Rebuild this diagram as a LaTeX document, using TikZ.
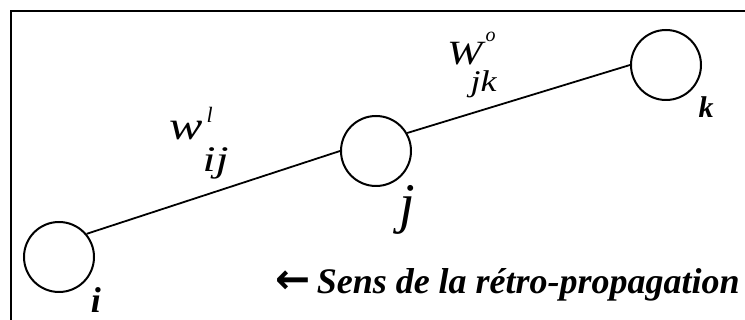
\documentclass[tikz,border=0pt]{standalone}
\usepackage{fontspec}
\setmainfont{Liberation Serif}
\newfontfamily\arrowfont{DejaVu Sans}
\usetikzlibrary{positioning}
\newcommand{\fsz}[1]{\fontsize{#1}{#1}\selectfont}
\tikzset{
  neuron/.style={draw, circle, line width=2pt, minimum size=70pt, inner sep=0pt},
  conn/.style={line width=1.8pt},
  frameline/.style={line width=2.2pt},
  idxlabel/.style={inner sep=0pt, anchor=base, font=\bfseries\itshape},
  wlabel/.style={inner sep=0pt, anchor=base west, font=\itshape}
}

\begin{document}
\begin{tikzpicture}[x=1pt, y=-1pt]
  \useasboundingbox (0,0) rectangle (745,320);
  \draw[frameline] (11,335) -- (11,11) -- (760,11);

  \node[neuron] (ni) at (59,257) {};
  \node[neuron] (nj) at (376,151) {};
  \node[neuron] (nk) at (666,65) {};

  \draw[conn] (ni.40) -- (nj.west);
  \draw[conn] (nj.30) -- (nk.west);

  \node[idxlabel, font=\fsz{36}\bfseries\itshape] (li) at (96,313) {i};
  \node[idxlabel, font=\fsz{56}\itshape] (lj) at (407,223) {j};
  \node[idxlabel, font=\fsz{30}\bfseries\itshape] (lk) at (706,118) {k};

  % poids des connexions
  \node[wlabel, font=\fsz{40}\itshape] (wij) at (169,140)
    {\scalebox{1.25}[1]{w}\rlap{\hspace{4pt}\raisebox{17pt}{\fsz{22}l}}\raisebox{-32pt}{\fsz{36}\scalebox{1.3}[1]{ij}}};
  \node[wlabel, font=\fsz{34}\itshape] (wjk) at (447,65)
    {\scalebox{1.25}[1]{W}\rlap{\hspace{3pt}\raisebox{23pt}{\fsz{20}o}}\hspace{-12pt}\raisebox{-27pt}{\fsz{30}\scalebox{1.2}[1]{jk}}};

  \node[inner sep=0pt, anchor=base east, font=\fsz{36}\bfseries\itshape] (sens) at (740,294)
    {{\arrowfont\fsz{42}\bfseries ←}\hspace{6pt}Sens de la rétro-propagation};
\end{tikzpicture}
\end{document}
